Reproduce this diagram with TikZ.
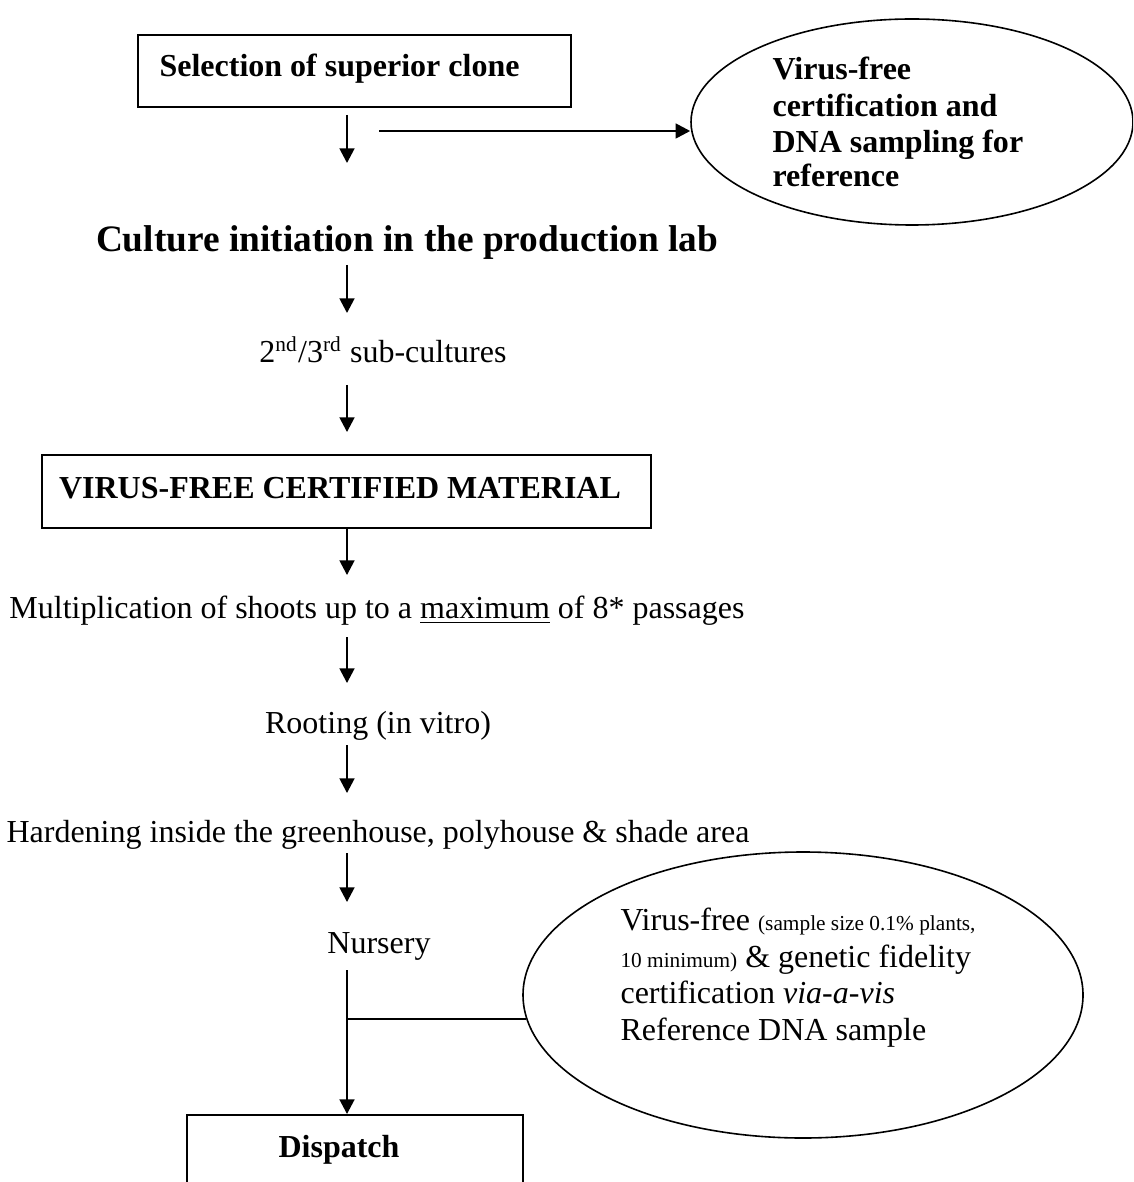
\documentclass[tikz,border=0pt]{standalone}
\usepackage{fontspec}
\setmainfont{Liberation Serif}
\usetikzlibrary{arrows.meta,shapes.geometric}
\begin{document}
\begin{tikzpicture}[x=0.375pt,y=-0.375pt,
  txt/.style={inner sep=0pt,font=\fontsize{12}{14}\selectfont},
  btxt/.style={inner sep=0pt,font=\fontsize{12}{14}\selectfont\bfseries},
  smalltxt/.style={inner sep=0pt,font=\fontsize{12}{14}\selectfont},
  box/.style={draw,line width=0.75pt,inner sep=0pt,rectangle},
  oval/.style={draw,ellipse,line width=0.6pt,inner sep=0pt},
  arr/.style={line width=0.75pt,-{Triangle[width=5.6pt,length=5.5pt]}},
  ln/.style={line width=0.75pt}]
\useasboundingbox (0,0) rectangle (1133,1182);
\clip (0,0) rectangle (1133,1182);
\fill[white] (0,0) rectangle (1133,1182);

% boxes and ellipses
\node[box,minimum width=162.4pt,minimum height=27pt] (b1) at (354.5,71) {};
\node[box,minimum width=228.4pt,minimum height=27.4pt] (b2) at (346.5,491.5) {};
\node[box,minimum width=126pt,minimum height=30pt] (b3) at (355,1155) {};
\node[oval,minimum width=165.75pt,minimum height=77.25pt] (e1) at (912,122) {};
\node[oval,minimum width=210pt,minimum height=107.25pt] (e2) at (803,995) {};

% texts
\node[btxt,anchor=base west] (t1) at (159,77) {Selection of superior clone};
\node[inner sep=0pt,font=\fontsize{14}{16}\selectfont\bfseries,anchor=base] (t2) at (407,252) {Culture initiation in the production lab};
\node[txt,anchor=base] (t3) at (383,363) {2\textsuperscript{nd}/3\textsuperscript{rd} sub-cultures};
\node[btxt,anchor=base] (t4) at (340,498) {VIRUS-FREE CERTIFIED MATERIAL};
\node[txt,anchor=base] (t5) at (377,618) {Multiplication of shoots up to a \underline{maximum} of 8* passages};
\node[txt,anchor=base] (t6) at (378,733) {Rooting (in vitro)};
\node[txt,anchor=base] (t7) at (378,842) {Hardening inside the greenhouse, polyhouse \& shade area};
\node[txt,anchor=base] (t8) at (379,953) {Nursery};
\node[btxt,anchor=base] (t9) at (339,1157) {Dispatch};

\node[btxt,anchor=base west] (e1a) at (772,80) {Virus-free};
\node[btxt,anchor=base west] (e1b) at (772,117) {certification and};
\node[btxt,anchor=base west] (e1c) at (772,153) {DNA sampling for};
\node[btxt,anchor=base west] (e1d) at (772,187) {reference};

\node[txt,anchor=base west] (e2a) at (620,930) {Virus-free {\fontsize{8}{9}\selectfont (sample size 0.1\% plants,}};
\node[txt,anchor=base west] (e2b) at (620,967) {{\fontsize{8}{9}\selectfont 10 minimum)} \& genetic fidelity};
\node[txt,anchor=base west] (e2c) at (620,1003) {certification \textit{via-a-vis}};
\node[txt,anchor=base west] (e2d) at (620,1040) {Reference DNA sample};

% connectors
\coordinate (a1s) at (347,115); \coordinate (a1e) at (347,163);
\draw[arr] (a1s) -- (a1e);
\coordinate (h1) at (379,131);
\draw[arr] (h1) -- (h1 -| e1.west);
\coordinate (a2s) at (347,265); \coordinate (a2e) at (347,313);
\draw[arr] (a2s) -- (a2e);
\coordinate (a3s) at (347,385); \coordinate (a3e) at (347,432);
\draw[arr] (a3s) -- (a3e);
\coordinate (a4e) at (347,575);
\draw[arr] (a4e |- b2.south) -- (a4e);
\coordinate (a5s) at (347,637); \coordinate (a5e) at (347,683);
\draw[arr] (a5s) -- (a5e);
\coordinate (a6s) at (347,745); \coordinate (a6e) at (347,793);
\draw[arr] (a6s) -- (a6e);
\coordinate (a7s) at (347,853); \coordinate (a7e) at (347,902);
\draw[arr] (a7s) -- (a7e);
\coordinate (n1) at (347,970);
\draw[arr] (n1) -- (n1 |- b3.north);
\coordinate (jn) at (347,1019);
\draw[ln] (jn) -- (jn -| e2.185);
\end{tikzpicture}
\end{document}
